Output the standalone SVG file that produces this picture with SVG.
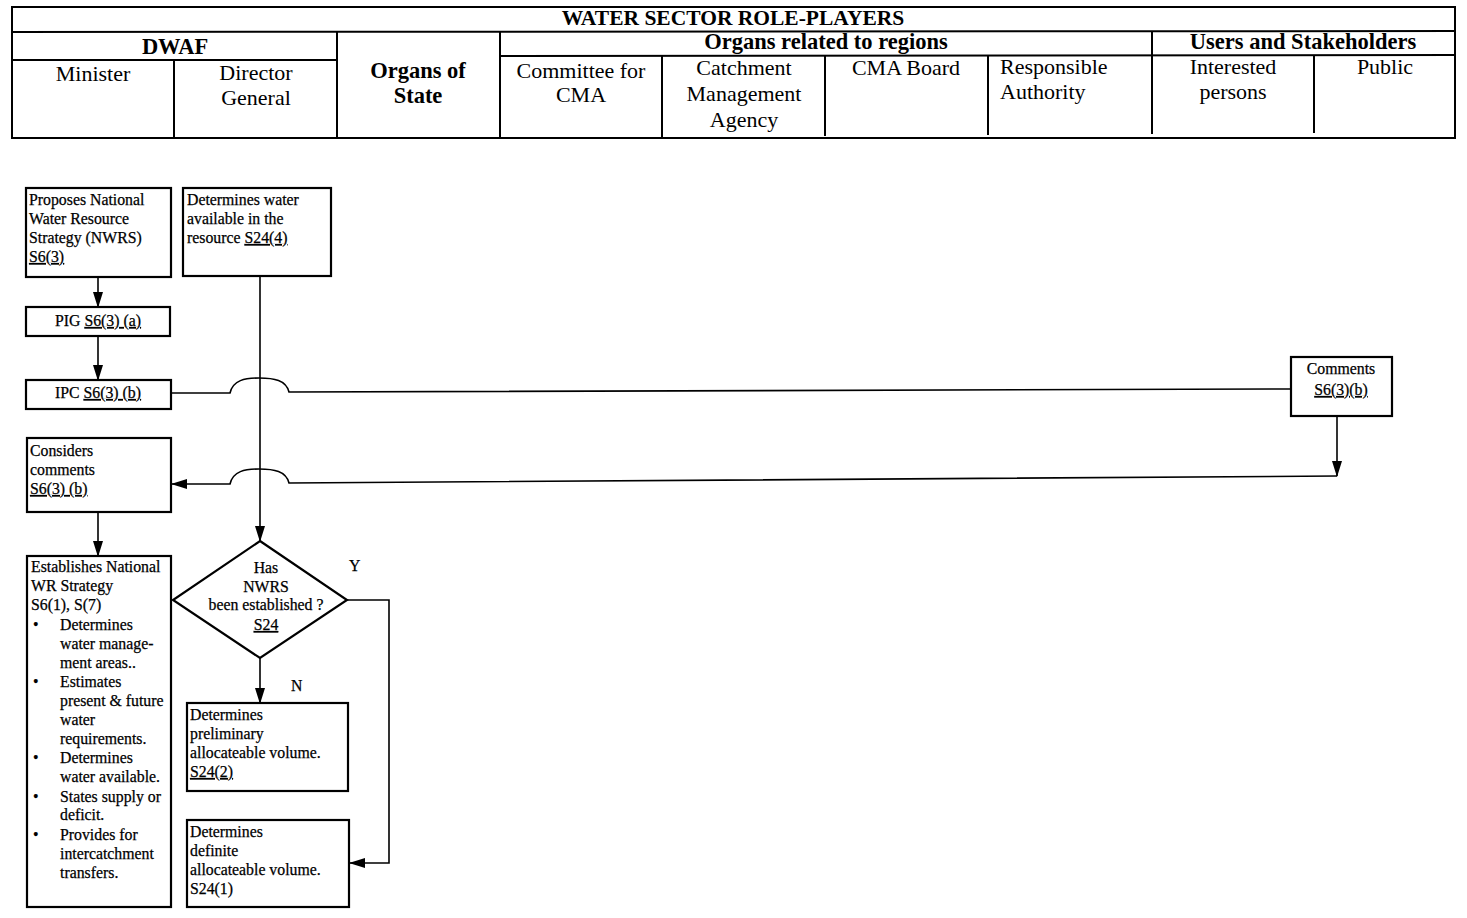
<svg xmlns="http://www.w3.org/2000/svg" width="1467" height="918" viewBox="0 0 1467 918">
<style>
.bg{fill:#fff}
.tb{fill:none;stroke:#000;stroke-width:2}
.box{fill:#fff;stroke:#000;stroke-width:2.2}
.ln{fill:none;stroke:#000;stroke-width:1.6}
.h{font-family:"Liberation Serif","Times New Roman",serif;font-size:22px;fill:#000}
.hb{font-family:"Liberation Serif","Times New Roman",serif;font-size:22.5px;font-weight:bold;fill:#000}
.ttl{font-size:21.5px}
.t{font-family:"Liberation Serif","Times New Roman",serif;font-size:15.8px;fill:#000;stroke:#000;stroke-width:0.25}
.c{text-anchor:middle}
.u{text-decoration:underline}
</style>
<defs>
<marker id="ah" markerWidth="16" markerHeight="10" refX="15" refY="5" orient="auto" markerUnits="userSpaceOnUse">
<path d="M0,0 L16,5 L0,10 Z" fill="#000"/>
</marker>
</defs>
<rect class="bg" x="0" y="0" width="1467" height="918"/>

<g id="header">
<rect class="tb" x="12" y="7" width="1443" height="131"/>
<line class="tb" x1="12" y1="32" x2="1455" y2="31"/>
<line class="tb" x1="12" y1="60" x2="337" y2="60"/>
<line class="tb" x1="500" y1="56" x2="1455" y2="55"/>
<line class="tb" x1="337" y1="32" x2="337" y2="138"/>
<line class="tb" x1="500" y1="32" x2="500" y2="138"/>
<line class="tb" x1="174" y1="60" x2="174" y2="138"/>
<line class="tb" x1="662" y1="56" x2="662" y2="137"/>
<line class="tb" x1="825" y1="56" x2="825" y2="136"/>
<line class="tb" x1="988" y1="56" x2="988" y2="135"/>
<line class="tb" x1="1152" y1="31" x2="1152" y2="134"/>
<line class="tb" x1="1314" y1="55" x2="1314" y2="133"/>
<text class="hb ttl c" x="733" y="25">WATER SECTOR ROLE-PLAYERS</text>
<text class="hb c" x="175" y="54">DWAF</text>
<text class="hb c" x="826" y="49">Organs related to regions</text>
<text class="hb c" x="1303" y="49">Users and Stakeholders</text>
<text class="h c" x="93" y="81">Minister</text>
<text class="h c" x="256" y="80">Director</text>
<text class="h c" x="256" y="105">General</text>
<text class="hb c" x="418" y="78">Organs of</text>
<text class="hb c" x="418" y="103">State</text>
<text class="h c" x="581" y="78">Committee for</text>
<text class="h c" x="581" y="102">CMA</text>
<text class="h c" x="744" y="75">Catchment</text>
<text class="h c" x="744" y="101">Management</text>
<text class="h c" x="744" y="127">Agency</text>
<text class="h c" x="906" y="75">CMA Board</text>
<text class="h" x="1000" y="74">Responsible</text>
<text class="h" x="1000" y="99">Authority</text>
<text class="h c" x="1233" y="74">Interested</text>
<text class="h c" x="1233" y="99">persons</text>
<text class="h c" x="1385" y="74">Public</text>
</g>

<g id="connectors">
<line class="ln" x1="98" y1="277" x2="98" y2="307" marker-end="url(#ah)"/>
<line class="ln" x1="98" y1="336" x2="98" y2="380" marker-end="url(#ah)"/>
<line class="ln" x1="260" y1="276" x2="260" y2="541" marker-end="url(#ah)"/>
<path class="ln" d="M171,393 L230,393 C233,380 245,378 259,378 C274,378 286,380 289,392 L1291,389"/>
<line class="ln" x1="1337" y1="416" x2="1337" y2="476" marker-end="url(#ah)"/>
<path class="ln" d="M1337,476 L289,483 C286,471 274,469 259,469 C245,469 233,471 230,484 L172,484" marker-end="url(#ah)"/>
<line class="ln" x1="98" y1="512" x2="98" y2="556" marker-end="url(#ah)"/>
<line class="ln" x1="260" y1="658" x2="260" y2="703" marker-end="url(#ah)"/>
<path class="ln" d="M347,600 L389,600 L389,863 L350,863" marker-end="url(#ah)"/>
<text class="t" x="349" y="571">Y</text>
<text class="t" x="291" y="691">N</text>
</g>

<g id="n-proposes">
<rect class="box" x="26" y="188" width="145" height="89"/>
<text class="t" x="29" y="205">Proposes National</text>
<text class="t" x="29" y="224">Water Resource</text>
<text class="t" x="29" y="243">Strategy (NWRS)</text>
<text class="t u" x="29" y="262">S6(3)</text>
</g>

<g id="n-determines-water">
<rect class="box" x="183" y="188" width="148" height="88"/>
<text class="t" x="187" y="205">Determines water</text>
<text class="t" x="187" y="224">available in the</text>
<text class="t" x="187" y="243">resource <tspan class="u">S24(4)</tspan></text>
</g>

<g id="n-pig">
<rect class="box" x="26" y="307" width="144" height="29"/>
<text class="t c" x="98" y="326">PIG <tspan class="u">S6(3) (a)</tspan></text>
</g>

<g id="n-ipc">
<rect class="box" x="26" y="380" width="145" height="29"/>
<text class="t c" x="98" y="398">IPC <tspan class="u">S6(3) (b)</tspan></text>
</g>

<g id="n-comments">
<rect class="box" x="1291" y="357" width="101" height="59"/>
<text class="t c" x="1341" y="374">Comments</text>
<text class="t c u" x="1341" y="395">S6(3)(b)</text>
</g>

<g id="n-considers">
<rect class="box" x="27" y="438" width="144" height="74"/>
<text class="t" x="30" y="456">Considers</text>
<text class="t" x="30" y="475">comments</text>
<text class="t u" x="30" y="494">S6(3) (b)</text>
</g>

<g id="n-establishes">
<rect class="box" x="27" y="556" width="144" height="351"/>
<text class="t" x="31" y="572">Establishes National</text>
<text class="t" x="31" y="591">WR Strategy</text>
<text class="t" x="31" y="610">S6(1), S(7)</text>
<text class="t" x="33" y="630">•</text>
<text class="t" x="60" y="630">Determines</text>
<text class="t" x="60" y="649">water manage-</text>
<text class="t" x="60" y="668">ment areas..</text>
<text class="t" x="33" y="687">•</text>
<text class="t" x="60" y="687">Estimates</text>
<text class="t" x="60" y="706">present &amp; future</text>
<text class="t" x="60" y="725">water</text>
<text class="t" x="60" y="744">requirements.</text>
<text class="t" x="33" y="763">•</text>
<text class="t" x="60" y="763">Determines</text>
<text class="t" x="60" y="782">water available.</text>
<text class="t" x="33" y="802">•</text>
<text class="t" x="60" y="802">States supply or</text>
<text class="t" x="60" y="820">deficit.</text>
<text class="t" x="33" y="840">•</text>
<text class="t" x="60" y="840">Provides for</text>
<text class="t" x="60" y="859">intercatchment</text>
<text class="t" x="60" y="878">transfers.</text>
</g>

<g id="n-decision">
<polygon class="box" points="260,541 347,600 260,658 173,600"/>
<text class="t c" x="266" y="573">Has</text>
<text class="t c" x="266" y="592">NWRS</text>
<text class="t c" x="266" y="610">been established ?</text>
<text class="t c u" x="266" y="630">S24</text>
</g>

<g id="n-preliminary">
<rect class="box" x="187" y="703" width="161" height="88"/>
<text class="t" x="190" y="720">Determines</text>
<text class="t" x="190" y="739">preliminary</text>
<text class="t" x="190" y="758">allocateable volume.</text>
<text class="t u" x="190" y="777">S24(2)</text>
</g>

<g id="n-definite">
<rect class="box" x="187" y="820" width="162" height="87"/>
<text class="t" x="190" y="837">Determines</text>
<text class="t" x="190" y="856">definite</text>
<text class="t" x="190" y="875">allocateable volume.</text>
<text class="t" x="190" y="894">S24(1)</text>
</g>
</svg>
